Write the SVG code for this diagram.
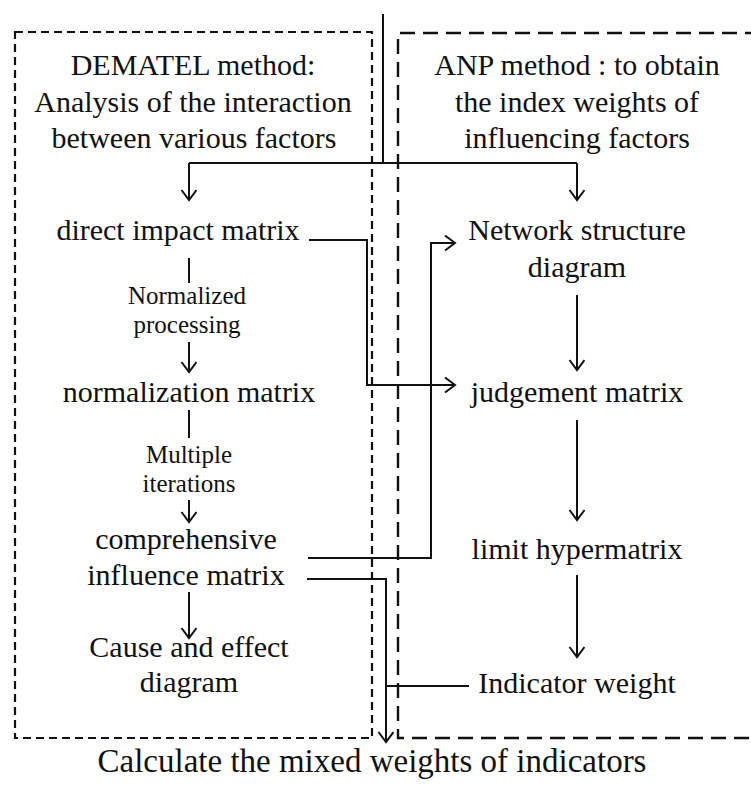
<svg xmlns="http://www.w3.org/2000/svg" width="751" height="787" viewBox="0 0 751 787">
<style>
  text { font-family: "Liberation Serif", "Times New Roman", serif; fill: #111; text-anchor: middle; }
  .m { font-size: 30px; }
  .s { font-size: 25px; }
  .b { font-size: 33px; }
  .ln { fill: none; stroke: #111; stroke-width: 2; }
  .boxL { fill: none; stroke: #111; stroke-width: 2.2; stroke-dasharray: 8 5; }
  .boxR { fill: none; stroke: #111; stroke-width: 2.4; stroke-dasharray: 15 8; }
</style>
<defs>
  <marker id="ah" markerUnits="userSpaceOnUse" markerWidth="20" markerHeight="20" refX="11" refY="8" orient="auto">
    <path d="M1,0.5 L11,8 L1,15.5" fill="none" stroke="#111" stroke-width="2"/>
  </marker>
</defs>
<rect width="751" height="787" fill="#fff"/>

<g id="dematel-box">
  <rect class="boxL" x="15" y="32" width="357" height="706"/>
  <text class="m" x="193" y="75">DEMATEL method:</text>
  <text class="m" x="193" y="112">Analysis of the interaction</text>
  <text class="m" x="194" y="148">between various factors</text>
</g>
<g id="anp-box">
  <path class="boxR" d="M760,33 H398 V738 H760"/>
  <text class="m" x="577" y="75">ANP method : to obtain</text>
  <text class="m" x="577" y="112">the index weights of</text>
  <text class="m" x="577" y="148">influencing factors</text>
</g>

<g id="direct-impact"><text class="m" x="178" y="240">direct impact matrix</text></g>
<g id="normalized-label">
  <text class="s" x="187" y="304">Normalized</text>
  <text class="s" x="187" y="333">processing</text>
</g>
<g id="normalization"><text class="m" x="189" y="402">normalization matrix</text></g>
<g id="multiple-label">
  <text class="s" x="189" y="463">Multiple</text>
  <text class="s" x="189" y="492">iterations</text>
</g>
<g id="comprehensive">
  <text class="m" x="186" y="549">comprehensive</text>
  <text class="m" x="186" y="585">influence matrix</text>
</g>
<g id="cause-effect">
  <text class="m" x="189" y="657">Cause and effect</text>
  <text class="m" x="189" y="692">diagram</text>
</g>

<g id="network">
  <text class="m" x="577" y="240">Network structure</text>
  <text class="m" x="577" y="277">diagram</text>
</g>
<g id="judgement"><text class="m" x="577" y="402">judgement matrix</text></g>
<g id="limit"><text class="m" x="577" y="559">limit hypermatrix</text></g>
<g id="indicator"><text class="m" x="577" y="693">Indicator weight</text></g>

<g id="mixed"><text class="b" x="372" y="772">Calculate the mixed weights of indicators</text></g>

<g id="connectors">
  <path class="ln" d="M383,14 V163"/>
  <path class="ln" d="M189,163 H577"/>
  <path class="ln" d="M189,163 V200" marker-end="url(#ah)"/>
  <path class="ln" d="M577,163 V200" marker-end="url(#ah)"/>
  <path class="ln" d="M189,258 V283"/>
  <path class="ln" d="M189,342 V372" marker-end="url(#ah)"/>
  <path class="ln" d="M189,410 V438"/>
  <path class="ln" d="M189,500 V522" marker-end="url(#ah)"/>
  <path class="ln" d="M189,592 V638" marker-end="url(#ah)"/>
  <path class="ln" d="M577,295 V370" marker-end="url(#ah)"/>
  <path class="ln" d="M577,420 V520" marker-end="url(#ah)"/>
  <path class="ln" d="M577,575 V657" marker-end="url(#ah)"/>
  <path class="ln" d="M309,240 H367 V385 H455" marker-end="url(#ah)"/>
  <path class="ln" d="M308,558 H431 V243 H455" marker-end="url(#ah)"/>
  <path class="ln" d="M307,579 H386 V742" marker-end="url(#ah)"/>
  <path class="ln" d="M469,686 H386"/>
</g>
</svg>
